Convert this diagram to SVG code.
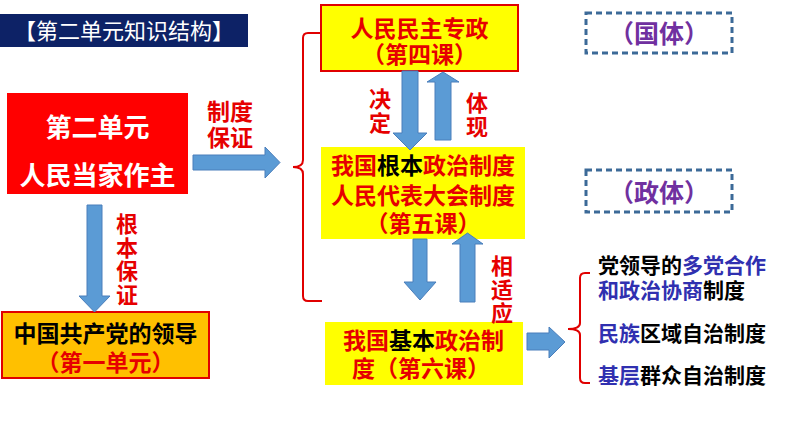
<svg xmlns="http://www.w3.org/2000/svg" width="794" height="447" viewBox="0 0 794 447">
<style>
text{font-family:"Noto Sans CJK SC","Noto Sans",sans-serif;font-weight:700}
.c{text-anchor:middle}
.v{writing-mode:vertical-rl;letter-spacing:1.5px}
.r{fill:#e60000}
.k{fill:#000}
.w{fill:#fff}
.b{fill:#3030b0}
.p{fill:#7030a0}
.arr{fill:#5b9bd5;stroke:#4a7ebb;stroke-width:1}
.brace{fill:none;stroke:#e00000;stroke-width:2}
.dash{fill:none;stroke:#3c6a98;stroke-width:3;stroke-dasharray:6 4}
</style>
<rect width="794" height="447" fill="#fff"/>
<g id="title">
<rect x="0" y="14" width="248" height="33" fill="#0d2266"/>
<text x="124" y="39" class="c w" font-size="22" style="font-weight:400">【第二单元知识结构】</text>
</g>
<g id="guoti">
<rect x="586" y="13" width="146" height="40" class="dash"/>
<text x="659" y="43" class="c p" font-size="25">（国体）</text>
</g>
<g id="zhengti">
<rect x="586" y="170" width="146" height="42" class="dash"/>
<text x="659" y="202" class="c p" font-size="25">（政体）</text>
</g>
<g id="unit2">
<rect x="7" y="93" width="181" height="101" fill="#ff0000"/>
<text class="c w" font-size="26"><tspan x="97.5" y="137">第二单元</tspan><tspan x="97.5" y="185">人民当家作主</tspan></text>
</g>
<g id="party">
<rect x="2" y="312" width="207" height="66" fill="#ffc000" stroke="#e00000" stroke-width="2"/>
<text class="c r" font-size="23"><tspan x="105.5" y="342" class="k">中国共产党的领导</tspan><tspan x="105.5" y="371">（第一单元）</tspan></text>
</g>
<g id="dictatorship">
<rect x="321" y="5" width="197" height="66" fill="#ffff00" stroke="#e00000" stroke-width="2"/>
<text class="c r" font-size="23"><tspan x="419.5" y="37">人民民主专政</tspan><tspan x="419.5" y="63">（第四课）</tspan></text>
</g>
<g id="npc">
<rect x="321" y="147" width="204" height="92" fill="#ffff00"/>
<text class="c r" font-size="23"><tspan x="423" y="174">我国<tspan class="k">根本</tspan>政治制度</tspan><tspan x="423" y="204">人民代表大会制度</tspan><tspan x="423" y="232">（第五课）</tspan></text>
</g>
<g id="basic">
<rect x="325" y="322" width="198" height="63" fill="#ffff00"/>
<text class="c r" font-size="23"><tspan x="423.5" y="349">我国<tspan class="k">基本</tspan>政治制</tspan><tspan x="421" y="377">度（第六课）</tspan></text>
</g>
<g id="systems">
<text font-size="21"><tspan x="598" y="273" class="k">党领导的<tspan class="b">多党合作</tspan></tspan><tspan x="598" y="298" class="b">和政治协商<tspan class="k">制度</tspan></tspan></text>
<text x="598" y="341" class="b" font-size="21">民族<tspan class="k">区域自治制度</tspan></text>
<text x="598" y="383" class="b" font-size="21">基层<tspan class="k">群众自治制度</tspan></text>
</g>
<g id="connectors">
<path class="brace" d="M321,33 L308,33 Q303,33 303,38 L303,160 Q303,167 293,167 Q303,167 303,174 L303,296 Q303,301 308,301 L322,301"/>
<path class="brace" d="M590,273 L585,273 Q580,273 580,278 L580,323 Q580,329 568,329 Q580,329 580,335 L580,378 Q580,383 585,383 L590,383"/>
<polygon class="arr" points="193,155 265,155 265,147 280,162.5 265,178 265,170 193,170"/>
<polygon class="arr" points="87,205 102,205 102,296 110,296 94.5,312 79,296 87,296"/>
<polygon class="arr" points="402,71 418,71 418,133 427,133 410,150 393,133 402,133"/>
<polygon class="arr" points="435,140 451,140 451,82 459,82 443,72 427,82 435,82"/>
<polygon class="arr" points="413,239 427,239 427,282 436,282 420,300 404,282 413,282"/>
<polygon class="arr" points="460,302 475,302 475,244 483,244 467.5,233 452,244 460,244"/>
<polygon class="arr" points="527,333 549,333 549,327 565,342 549,358 549,350 527,350"/>
<text class="c r" font-size="23"><tspan x="230" y="120">制度</tspan><tspan x="230" y="146">保证</tspan></text>
<text x="380" y="88" class="v r" font-size="22" style="letter-spacing:2px">决定</text>
<text x="477" y="92" class="v r" font-size="22" style="letter-spacing:2px">体现</text>
<text x="502" y="255" class="v r" font-size="22">相适应</text>
<text x="127" y="213" class="v r" font-size="22">根本保证</text>
</g>
</svg>
